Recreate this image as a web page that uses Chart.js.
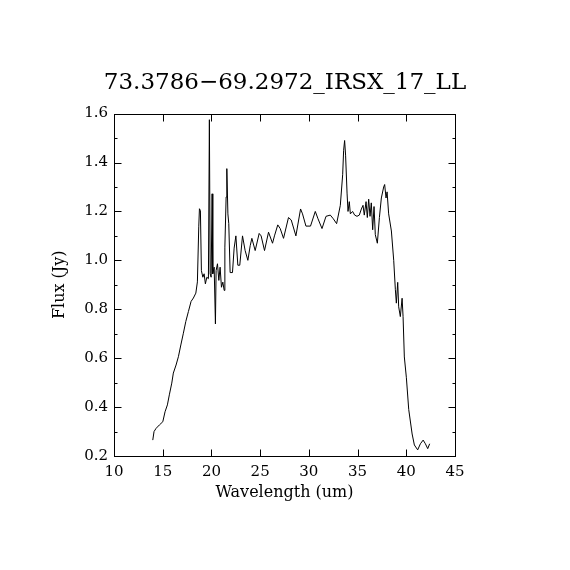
<!DOCTYPE html>
<html>
<head>
<meta charset="utf-8">
<script src="https://cdn.jsdelivr.net/npm/chart.js@4.4.1/dist/chart.umd.min.js"></script>
<style>
  html, body { margin: 0; padding: 0; background: #fff; }
  #wrap { width: 570px; height: 570px; }
</style>
</head>
<body>
<div id="wrap"><canvas id="spec" width="570" height="570"></canvas></div>
<script>
// spectrum
const wavelength = [
  13.98, 14.11, 14.32, 14.66, 15.01, 15.24, 15.48, 15.68, 15.93, 16.09,
  16.37, 16.61, 16.86, 17.12, 17.37, 17.64, 17.91, 18.15, 18.40, 18.56,
  18.70, 18.77, 18.87, 18.97, 19.12, 19.25, 19.38, 19.53, 19.69, 19.79,
  19.87, 19.97, 20.07, 20.14, 20.28, 20.41, 20.48, 20.62, 20.76, 20.89,
  21.03, 21.17, 21.31, 21.38, 21.51, 21.58, 21.69, 21.78, 21.92, 22.16,
  22.33, 22.51, 22.71, 22.91, 23.19, 23.46, 23.74, 23.98, 24.15, 24.49,
  24.90, 25.10, 25.45, 25.86, 26.27, 26.47, 26.81, 27.06, 27.40, 27.91,
  28.19, 28.67, 29.15, 29.35, 29.70, 30.17, 30.66, 30.94, 31.35, 31.76,
  32.20, 32.51, 32.85, 33.23, 33.47, 33.57, 33.67, 33.77, 33.92, 34.02,
  34.15, 34.26, 34.49, 34.70, 34.94, 35.18, 35.39, 35.56, 35.69, 35.87,
  36.00, 36.14, 36.28, 36.41, 36.55, 36.69, 36.82, 37.03, 37.24, 37.44,
  37.68, 37.78, 37.92, 38.03, 38.19, 38.47, 38.71, 38.88, 38.98, 39.12,
  39.22, 39.39, 39.57, 39.67, 39.80, 40.01, 40.25, 40.60, 40.83, 41.17,
  41.45, 41.73, 41.96, 42.20, 42.40
];
const flux = [
  0.265, 0.300, 0.313, 0.327, 0.340, 0.381, 0.409, 0.450, 0.498, 0.539,
  0.572, 0.606, 0.654, 0.702, 0.750, 0.791, 0.832, 0.846, 0.866, 0.912,
  1.137, 1.211, 1.203, 0.958, 0.931, 0.945, 0.904, 0.931, 0.925, 1.575,
  0.945, 0.931, 1.272, 0.945, 0.972, 0.740, 0.958, 0.986, 0.918, 0.972,
  0.890, 0.911, 0.877, 1.054, 1.259, 1.375, 1.190, 1.150, 0.950, 0.950,
  1.050, 1.100, 0.980, 0.980, 1.100, 1.040, 1.000, 1.060, 1.090, 1.040,
  1.110, 1.100, 1.040, 1.115, 1.070, 1.100, 1.145, 1.130, 1.090, 1.175,
  1.165, 1.100, 1.210, 1.190, 1.140, 1.140, 1.200, 1.170, 1.130, 1.180,
  1.185, 1.170, 1.150, 1.225, 1.350, 1.450, 1.490, 1.430, 1.275, 1.200,
  1.240, 1.190, 1.200, 1.185, 1.180, 1.185, 1.210, 1.225, 1.185, 1.240,
  1.175, 1.250, 1.180, 1.235, 1.125, 1.220, 1.105, 1.070, 1.175, 1.255,
  1.300, 1.310, 1.255, 1.280, 1.190, 1.120, 1.000, 0.880, 0.825, 0.910,
  0.810, 0.770, 0.845, 0.770, 0.605, 0.520, 0.390, 0.290, 0.245, 0.225,
  0.250, 0.265, 0.250, 0.230, 0.250
];

const xMajor = [10, 15, 20, 25, 30, 35, 40, 45];
const yMajor = [0.2, 0.4, 0.6, 0.8, 1.0, 1.2, 1.4, 1.6];
const yMinor = [0.3, 0.5, 0.7, 0.9, 1.1, 1.3, 1.5];

const serif = "'DejaVu Serif', 'Liberation Serif', serif";

// box around the plot with inward ticks on all four sides
const frameTicks = {
  id: 'frameTicks',
  afterDraw(chart) {
    const { ctx, chartArea: a, scales } = chart;
    const L = Math.round(a.left) + 0.5, R = Math.round(a.right) + 0.5;
    const T = Math.round(a.top) + 0.5, B = Math.round(a.bottom) + 0.5;
    ctx.save();
    ctx.strokeStyle = '#000';
    ctx.lineWidth = 1;
    ctx.strokeRect(L, T, R - L, B - T);
    ctx.beginPath();
    xMajor.forEach(v => {
      const px = Math.round(scales.x.getPixelForValue(v)) + 0.5;
      ctx.moveTo(px, B); ctx.lineTo(px, B - 7);
      ctx.moveTo(px, T); ctx.lineTo(px, T + 7);
    });
    const yt = (v, len) => {
      const py = Math.round(scales.y.getPixelForValue(v)) + 0.5;
      ctx.moveTo(L, py); ctx.lineTo(L + len, py);
      ctx.moveTo(R, py); ctx.lineTo(R - len, py);
    };
    yMajor.forEach(v => yt(v, 7));
    yMinor.forEach(v => yt(v, 3));
    ctx.stroke();
    ctx.restore();
  }
};

const whiteBg = {
  id: 'whiteBg',
  beforeDraw(chart) {
    const { ctx } = chart;
    ctx.save();
    ctx.fillStyle = '#fff';
    ctx.fillRect(0, 0, chart.width, chart.height);
    ctx.restore();
  }
};

new Chart(document.getElementById('spec'), {
  type: 'line',
  data: {
    datasets: [{
      data: wavelength.map((w, i) => ({ x: w, y: flux[i] })),
      borderColor: '#000',
      borderWidth: 1,
      pointRadius: 0,
      tension: 0,
      fill: false
    }]
  },
  options: {
    responsive: false,
    devicePixelRatio: 1,
    animation: false,
    layout: { padding: 0 },
    plugins: {
      legend: { display: false },
      tooltip: { enabled: false },
      title: {
        display: true,
        text: '73.3786\u221269.2972_IRSX_17_LL',
        color: '#000',
        font: { family: serif, size: 23, weight: 'normal' },
        padding: { top: 69, bottom: 17 }
      }
    },
    scales: {
      x: {
        type: 'linear',
        min: 10,
        max: 45,
        afterFit: s => { s.height = 114; },
        grid: { display: false, drawTicks: false },
        border: { display: false },
        ticks: {
          stepSize: 5,
          padding: 7,
          color: '#000',
          maxRotation: 0,
          font: { family: serif, size: 15 }
        },
        title: {
          display: true,
          text: 'Wavelength (um)',
          color: '#000',
          font: { family: serif, size: 16 },
          padding: { top: 0, bottom: 68 }
        }
      },
      y: {
        type: 'linear',
        min: 0.2,
        max: 1.6,
        afterFit: s => { s.width = 114; },
        grid: { display: false, drawTicks: false },
        border: { display: false },
        ticks: {
          stepSize: 0.2,
          padding: 6,
          color: '#000',
          font: { family: serif, size: 15 },
          callback: v => v.toFixed(1)
        },
        title: {
          display: true,
          text: 'Flux (Jy)',
          color: '#000',
          font: { family: serif, size: 16 },
          padding: { top: 50, bottom: 0 }
        }
      },
      // empty right-hand axis, only reserves the margin right of the frame
      yRight: {
        type: 'linear',
        position: 'right',
        min: 0.2,
        max: 1.6,
        afterFit: s => { s.width = 115; },
        grid: { display: false, drawTicks: false },
        border: { display: false },
        ticks: { display: false }
      }
    }
  },
  plugins: [whiteBg, frameTicks]
});
</script>
</body>
</html>
